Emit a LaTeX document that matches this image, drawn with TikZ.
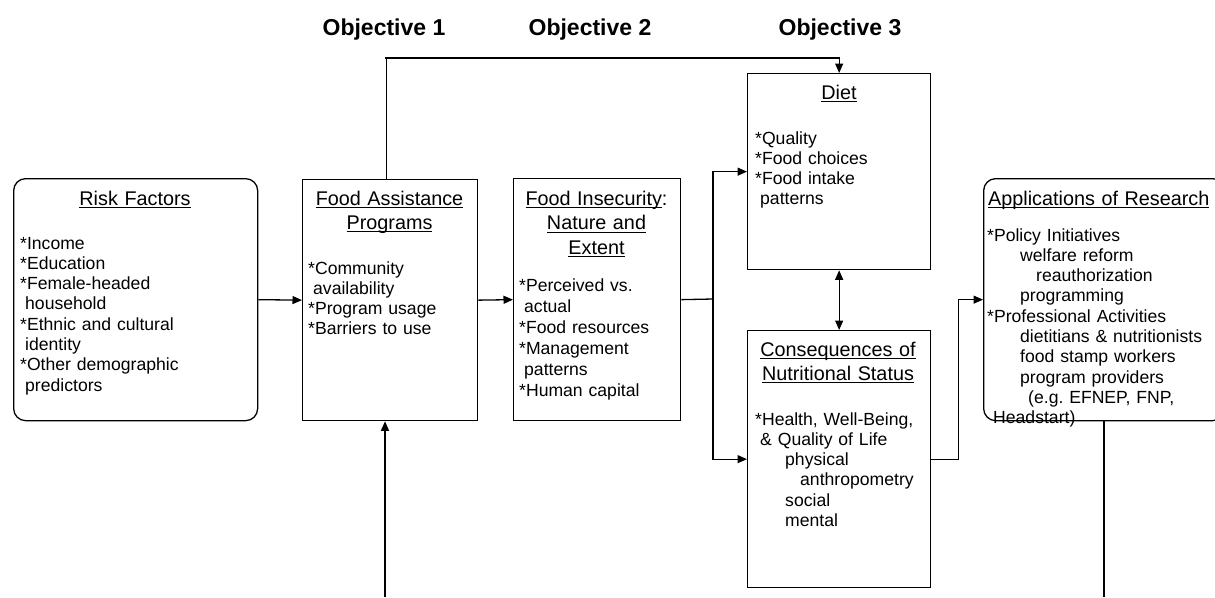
\documentclass[tikz,border=0pt]{standalone}
\usepackage{fontspec}
\setmainfont{Liberation Sans}
\usetikzlibrary{arrows.meta,calc}
\newsavebox\ulbox
\newcommand\ulx[1]{\leavevmode\sbox\ulbox{#1}\rlap{\rule[-3.4pt]{\wd\ulbox}{1.3pt}}\usebox\ulbox}
\frenchspacing
\begin{document}
\begin{tikzpicture}[x=1pt,y=-1pt,
  box/.style={draw, line width=1.3pt, inner sep=0pt, anchor=north west},
  rbox/.style={box, rounded corners=12pt},
  body/.style={font=\fontsize{17.6}{20.3}\selectfont, align=left, inner sep=0pt, anchor=base west},
  ttl/.style={font=\fontsize{19.8}{24}\selectfont, align=center, inner sep=0pt, anchor=base},
  obj/.style={font=\bfseries\fontsize{23}{27}\selectfont, inner sep=0pt, anchor=base},
  line/.style={line width=1.3pt},
  arr/.style={line, -{Triangle[length=9.5pt,width=8pt]}},
  arrs/.style={line, {Triangle[length=9.5pt,width=8pt]}-{Triangle[length=9.5pt,width=8pt]}}]
\useasboundingbox (0,0) rectangle (1215,597);
\clip (0,0) rectangle (1215,597);

% objectives
\node[obj] (obj1) at (384,35) {Objective 1};
\node[obj] (obj2) at (590,35) {Objective 2};
\node[obj] (obj3) at (840,35) {Objective 3};

% boxes
\node[rbox, minimum width=244pt, minimum height=242pt] (risk) at (13,178) {};
\node[box, minimum width=175pt, minimum height=241pt] (fap) at (302,179) {};
\node[box, minimum width=167pt, minimum height=242pt] (fi) at (513,178) {};
\node[box, minimum width=183pt, minimum height=196pt] (diet) at (747,73) {};
\node[box, minimum width=183pt, minimum height=257pt] (cons) at (747,330) {};
\node[rbox, minimum width=241pt, minimum height=242pt] (apps) at (983,178) {};

% titles
\node[ttl, text width=244pt] (risktitle) at (135,205) {\ulx{Risk Factors}};
\node[ttl, text width=175pt] (faptitle) at (389.5,205) {\ulx{Food Assistance}\\\ulx{Programs}};
\node[ttl, text width=167pt, font=\fontsize{19.8}{24.5}\selectfont] (fititle) at (596.5,205) {\ulx{Food Insecurity}:\\\ulx{Nature and}\\\ulx{Extent}};
\node[ttl, text width=183pt] (diettitle) at (839,99) {\ulx{Diet}};
\node[ttl, text width=183pt] (constitle) at (838,356) {\ulx{Consequences of}\\\ulx{Nutritional Status}};
\node[ttl, anchor=base west, align=left, text width=240pt] (appstitle) at (988,205) {\ulx{Applications of Research}};

% bodies
\node[body, text width=230pt] (riskbody) at (20,249) {*Income\\{}*Education\\{}*Female-headed\\\hspace*{5pt}household\\{}*Ethnic and cultural\\\hspace*{5pt}identity\\{}*Other demographic\\\hspace*{5pt}predictors};
\node[body, text width=165pt] (fapbody) at (308,274) {*Community\\\hspace*{5pt}availability\\{}*Program usage\\{}*Barriers to use};
\node[body, text width=160pt, font=\fontsize{17.6}{21}\selectfont] (fibody) at (519,291) {*Perceived vs.\\\hspace*{5pt}actual\\{}*Food resources\\{}*Management\\\hspace*{5pt}patterns\\{}*Human capital};
\node[body, text width=170pt] (dietbody) at (755,144) {*Quality\\{}*Food choices\\{}*Food intake\\\hspace*{5pt}patterns};
\node[body, text width=175pt] (consbody) at (755,425) {*Health, Well-Being,\\\hspace*{5pt}\& Quality of Life\\\hspace*{30pt}physical\\\hspace*{45pt}anthropometry\\\hspace*{30pt}social\\\hspace*{30pt}mental};
\node[body, text width=228pt] (appsbody) at (987,241) {*Policy Initiatives\\\hspace*{33pt}welfare reform\\\hspace*{49pt}reauthorization\\\hspace*{33pt}programming\\{}*Professional Activities\\\hspace*{33pt}dietitians \& nutritionists\\\hspace*{33pt}food stamp workers\\\hspace*{33pt}program providers\\\hspace*{41pt}(e.g. EFNEP, FNP,\\\hspace*{6pt}Headstart)};

% connectors
\draw[arr] (risk.east) -- (fap.west);
\draw[arr] (fap.east) -- (fi.west);
\coordinate (split) at (713,299);
\draw[line] (fi.east) -- (split);
\draw[arr] (split) |- (diet.west);
\draw[arr] (split) |- (cons.west);
\coordinate (topl) at (385,58);
\draw[arr] ([xshift=-4pt]fap.north) |- (topl) -| (diet.north);
\draw[arrs] (diet.south) -- (cons.north);
\draw[arr] (cons.east) -- ++(27,0) |- (apps.west);
\coordinate (appsend) at (1104,597);
\draw[line] (apps.south -| appsend) -- (appsend);
\coordinate (fapstart) at (385,597);
\draw[arr] (fapstart) -- (fapstart |- fap.south);
\end{tikzpicture}
\end{document}
